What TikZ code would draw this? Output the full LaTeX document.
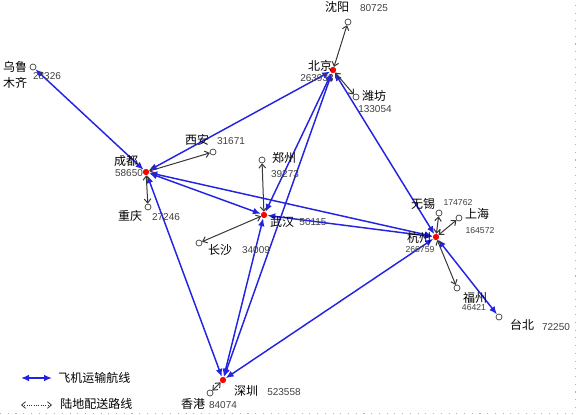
\documentclass[tikz,border=0pt]{standalone}
\usepackage{fontspec}
\setmainfont{Liberation Sans}
\newfontfamily\cjk{Noto Sans CJK SC}
\usetikzlibrary{arrows.meta}
\definecolor{flyblue}{RGB}{35,35,225}
\definecolor{landgray}{RGB}{55,55,55}

\begin{document}
\begin{tikzpicture}[x=0.75pt,y=-0.75pt,
    hub/.style={circle,fill=red,inner sep=0pt,minimum size=4.5pt},
    site/.style={circle,draw=landgray,fill=white,line width=0.5pt,inner sep=0pt,minimum size=4.5pt},
    fly/.style={draw=flyblue,line width=1.1pt,{Latex[length=6pt,width=5pt]}-{Latex[length=6pt,width=5pt]}},
    land/.style={draw=landgray,line width=0.75pt,{Straight Barb[length=3pt,width=5pt]}-{Straight Barb[length=3pt,width=5pt]}},
    cn/.style={font=\cjk\fontsize{9}{12.5}\selectfont,inner sep=0pt,align=center},
    num/.style={font=\fontsize{7.5}{9}\selectfont,inner sep=0pt,text=black!75},
    numsm/.style={font=\fontsize{6.5}{8}\selectfont,inner sep=0pt,text=black!75}]
  \useasboundingbox (0,0) rectangle (576,415);

  % hubs
  \node[hub] (bj) at (333,70) {};
  \node[hub] (cd) at (146,172) {};
  \node[hub] (wh) at (264,215) {};
  \node[hub] (hz) at (436,237) {};
  \node[hub] (sz) at (223,380) {};
  % sites
  \node[site] (wlmq) at (33,67) {};
  \node[site] (tb) at (499,317) {};
  \node[site] (sy) at (348,22) {};
  \node[site] (wf) at (356,97) {};
  \node[site] (xa) at (213,152) {};
  \node[site] (cq) at (148,207) {};
  \node[site] (zz) at (262,160) {};
  \node[site] (cs) at (199,243) {};
  \node[site] (wx) at (439,213) {};
  \node[site] (sh) at (459,218) {};
  \node[site] (fz) at (457,288) {};
  \node[site] (hk) at (210,393) {};

  % flights
  \draw[fly] (cd) -- (wlmq);
  \draw[fly] (cd) -- (bj);
  \draw[fly] (cd) -- (wh);
  \draw[fly] (cd) -- (hz);
  \draw[fly] (cd) -- (sz);
  \draw[fly] (bj) -- (wh);
  \draw[fly] (bj) -- (sz);
  \draw[fly] (bj) -- (hz);
  \draw[fly] (wh) -- (hz);
  \draw[fly] (wh) -- (sz);
  \draw[fly] (hz) -- (sz);
  \draw[fly] (hz) -- (tb);

  % land routes
  \draw[land] (bj) -- (sy);
  \draw[land] (bj) -- (wf);
  \draw[land] (cd) -- (xa);
  \draw[land] (cd) -- (cq);
  \draw[land] (wh) -- (zz);
  \draw[land] (wh) -- (cs);
  \draw[land] (hz) -- (wx);
  \draw[land] (hz) -- (sh);
  \draw[land] (hz) -- (fz);
  \draw[land] (sz) -- (hk);

  % hubs on top
  \foreach \h in {bj,cd,wh,hz,sz}
    \fill[red] (\h) circle (2.2pt);

  % labels
  \node[cn] (wlmq-t) at (15,75) {乌鲁\\木齐};
  \node[num] (wlmq-n) at (47,76) {28326};
  \node[cn] (sy-t) at (337,7) {沈阳};
  \node[num] (sy-n) at (374,8) {80725};
  \node[cn] (bj-t) at (320,66) {北京};
  \node[num] (bj-n) at (317,78) {263933};
  \node[cn] (wf-t) at (374,96) {潍坊};
  \node[num] (wf-n) at (375,109) {133054};
  \node[cn] (xa-t) at (197,140) {西安};
  \node[num] (xa-n) at (231,141) {31671};
  \node[cn] (cd-t) at (126,161) {成都};
  \node[num] (cd-n) at (129,173) {58650};
  \node[cn] (cq-t) at (130,216) {重庆};
  \node[num] (cq-n) at (166,217) {27246};
  \node[cn] (zz-t) at (284,158) {郑州};
  \node[num] (zz-n) at (285,174) {39273};
  \node[cn] (wh-t) at (282,222) {武汉};
  \node[num] (wh-n) at (313,222) {50115};
  \node[cn] (cs-t) at (220,250) {长沙};
  \node[num] (cs-n) at (256,250) {34009};
  \node[cn] (wx-t) at (423,204) {无锡};
  \node[numsm] (wx-n) at (458,203) {174762};
  \node[cn] (sh-t) at (477,214) {上海};
  \node[numsm] (sh-n) at (480,231) {164572};
  \node[cn] (hz-t) at (419,238) {杭州};
  \node[numsm] (hz-n) at (420,250) {266759};
  \node[cn] (fz-t) at (475,298) {福州};
  \node[numsm] (fz-n) at (474,308) {46421};
  \node[cn] (tb-t) at (522,325) {台北};
  \node[num] (tb-n) at (556,327) {72250};
  \node[cn] (sz-t) at (246,391) {深圳};
  \node[num] (sz-n) at (284,392) {523558};
  \node[cn] (hk-t) at (193,404) {香港};
  \node[num] (hk-n) at (223,405) {84074};

  % legend
  \coordinate (fly-a) at (21,378);
  \coordinate (fly-b) at (52,378);
  \draw[fly] (fly-a) -- (fly-b);
  \node[cn,anchor=west] (fly-t) at (58,378) {飞机运输航线};
  \coordinate (land-a) at (21,405);
  \coordinate (land-b) at (52,405);
  \draw[land,densely dotted,line width=0.6pt] (land-a) -- (land-b);
  \node[cn,anchor=west] (land-t) at (60,404) {陆地配送路线};

  % frame
  \draw[gray!60,dash pattern=on 0.8pt off 5pt] (0,413) -- (575,413) -- (575,0);
\end{tikzpicture}
\end{document}
